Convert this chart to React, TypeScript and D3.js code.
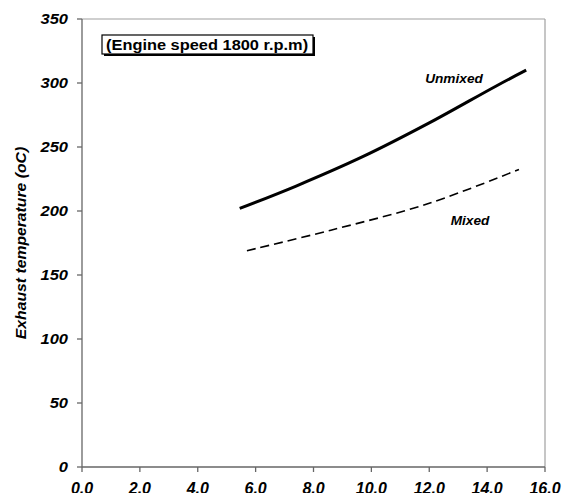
import React from "react";
import * as d3 from "d3";

const unmixedX = [5.45, 7.4, 9.7, 12.0, 14.3, 15.35];
const unmixedY = [202, 219.5, 242.4, 268.8, 297.5, 310];
const mixedX = [5.7, 8.6, 12.0, 15.1];
const mixedY = [169, 185, 206, 232.5];
const xTicks = [0, 2, 4, 6, 8, 10, 12, 14, 16];
const yTicks = [0, 50, 100, 150, 200, 250, 300, 350];
const titleText = "(Engine speed 1800 r.p.m)";
const yAxisTitle = "Exhaust temperature (oC)";

const W = 563, H = 493;
const L = 82, R = 545, T = 19, B = 467;
const font = "Arial, 'Liberation Sans', Helvetica, sans-serif";

function Txt(props: {
  x: number;
  y: number;
  sx: number;
  size: number;
  anchor?: string;
  italic?: boolean;
  rotate?: number;
  dy?: string;
  children: React.ReactNode;
}) {
  const rot = props.rotate ? ` rotate(${props.rotate})` : "";
  return (
    <text
      transform={`translate(${props.x},${props.y})${rot} scale(${props.sx},1)`}
      textAnchor={props.anchor || "start"}
      fontSize={props.size}
      fontWeight="bold"
      fontStyle={props.italic ? "italic" : "normal"}
      dy={props.dy}
      fill="#000"
    >
      {props.children}
    </text>
  );
}

export default function App() {
  const x = d3.scaleLinear().domain([0, 16]).range([L, R]);
  const y = d3.scaleLinear().domain([0, 350]).range([B, T]);
  const line = d3
    .line<[number, number]>()
    .x((d) => x(d[0]))
    .y((d) => y(d[1]))
    .curve(d3.curveCatmullRom.alpha(0.5));
  const unmixed = unmixedX.map((v, i) => [v, unmixedY[i]] as [number, number]);
  const mixed = mixedX.map((v, i) => [v, mixedY[i]] as [number, number]);

  return (
    <svg
      width={W}
      height={H}
      style={{ position: "absolute", left: 0, top: 0, background: "#fff" }}
      fontFamily={font}
    >
      <line x1={L} y1={T} x2={R} y2={T} stroke="#a0a0a0" strokeWidth={1.2} />
      <line x1={R} y1={T} x2={R} y2={B} stroke="#a0a0a0" strokeWidth={1.2} />
      <line x1={L} y1={T} x2={L} y2={B} stroke="#666" strokeWidth={1.3} />
      <line x1={L} y1={B} x2={R} y2={B} stroke="#666" strokeWidth={1.3} />
      {yTicks.map((t) => (
        <g key={"y" + t}>
          <line x1={L - 5} x2={L} y1={y(t)} y2={y(t)} stroke="#666" strokeWidth={1.3} />
          <Txt x={L - 14} y={y(t)} dy="0.36em" anchor="end" size={15} sx={1.1} italic>
            {t}
          </Txt>
        </g>
      ))}
      {xTicks.map((t) => (
        <g key={"x" + t}>
          <line x1={x(t)} x2={x(t)} y1={B} y2={B + 5} stroke="#666" strokeWidth={1.3} />
          <Txt x={x(t)} y={B + 27} anchor="middle" size={16} sx={1.0} italic>
            {t.toFixed(1)}
          </Txt>
        </g>
      ))}
      <Txt x={26} y={(T + B) / 2} rotate={-90} anchor="middle" size={15} sx={1.05} italic>
        {yAxisTitle}
      </Txt>
      <rect x={104} y={37} width={211} height={19} fill="#000" />
      <rect x={102} y={35} width={211} height={19} fill="#fff" stroke="#000" strokeWidth={1.2} />
      <Txt x={106} y={50} size={14.5} sx={1.13}>
        {titleText}
      </Txt>
      <path d={line(unmixed) || ""} fill="none" stroke="#000" strokeWidth={3} />
      <path
        d={line(mixed) || ""}
        fill="none"
        stroke="#000"
        strokeWidth={1.6}
        strokeDasharray="9,5"
      />
      <Txt x={454} y={83} anchor="middle" size={12} sx={1.14} italic>
        Unmixed
      </Txt>
      <Txt x={470} y={225} anchor="middle" size={12} sx={1.14} italic>
        Mixed
      </Txt>
    </svg>
  );
}
